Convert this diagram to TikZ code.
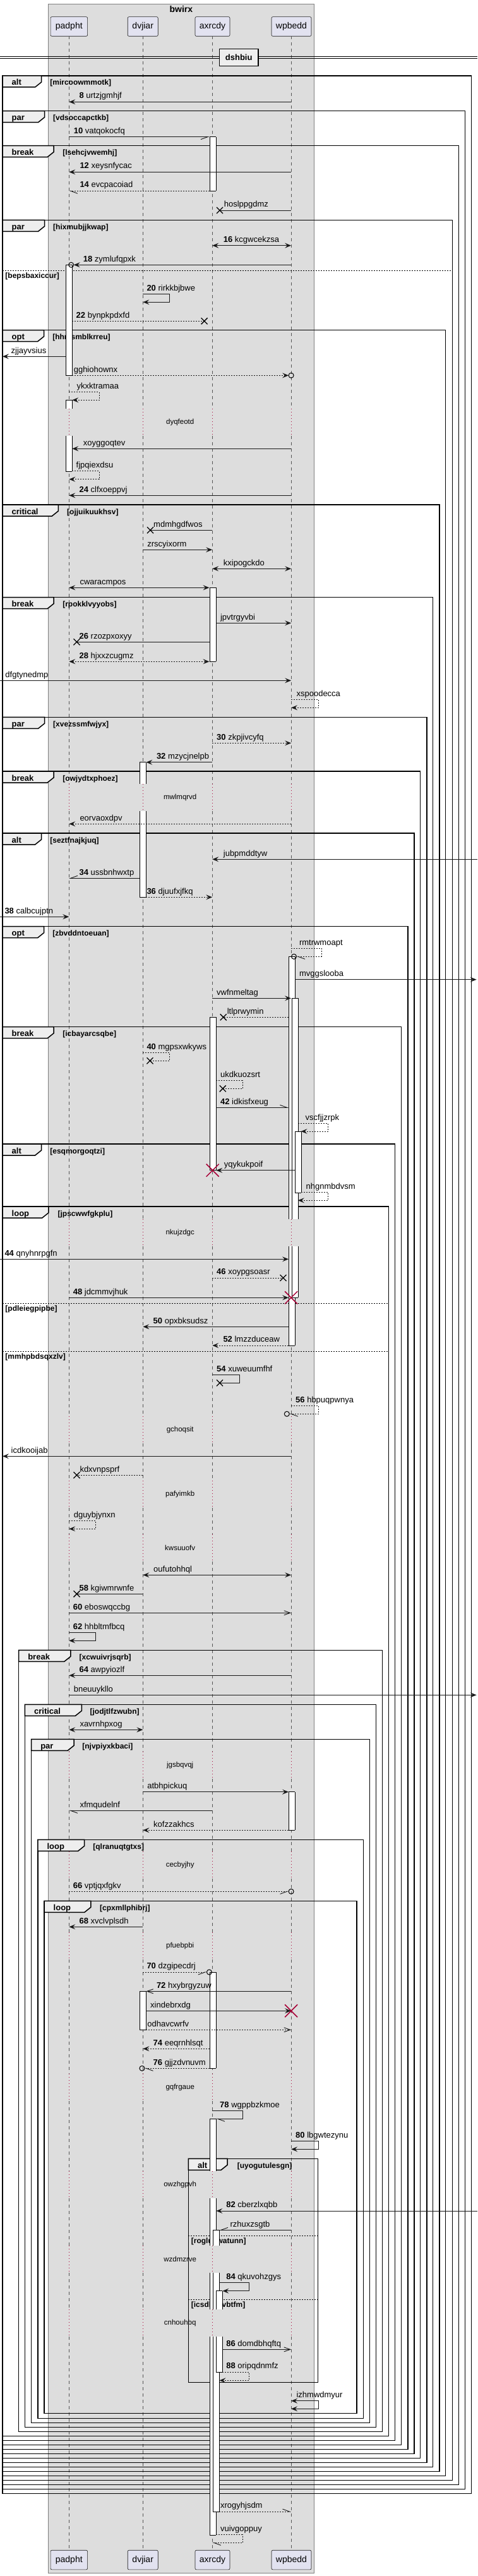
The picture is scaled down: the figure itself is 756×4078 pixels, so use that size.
\documentclass[tikz,border=0pt]{standalone}
\usepackage{fontspec}
\setmainfont{Liberation Sans}
\usetikzlibrary{arrows.meta}
\definecolor{boxbg}{HTML}{DDDDDD}
\definecolor{partbg}{HTML}{E2E2F0}
\definecolor{tabbg}{HTML}{EEEEEE}
\definecolor{crim}{HTML}{A80036}
\definecolor{lifec}{HTML}{555555}
\def\xP{109.3}\def\xD{226.4}\def\xA{336.2}\def\xW{461.1}
\tikzset{
 msgline/.style={line width=0.9pt, draw=black!90},
 fa/.style={-{Stealth[length=10pt,width=8pt,inset=4pt]}},
 ba/.style={{Stealth[length=10pt,width=8pt,inset=4pt]}-{Stealth[length=10pt,width=8pt,inset=4pt]}},
 oa/.style={-{Straight Barb[length=10pt,width=7pt]}},
 hL/.style={-{Straight Barb[harpoon,length=11pt,width=8pt]}},
 hR/.style={-{Straight Barb[harpoon,swap,length=11pt,width=8pt]}},
 dt/.style={dash pattern=on 2pt off 2pt},
 lbl/.style={anchor=base west, inner sep=0pt, font=\fontsize{13}{15}\selectfont},
 kw/.style={anchor=base west, inner sep=0pt, font=\fontsize{13}{15}\selectfont\bfseries},
 cnd/.style={anchor=base west, inner sep=0pt, font=\fontsize{12}{14}\selectfont\bfseries},
 dly/.style={inner sep=0pt, font=\fontsize{11.5}{13}\selectfont},
 part/.style={draw=black!90, line width=0.6pt, fill=partbg, rounded corners=2pt, minimum height=30.6pt, inner sep=0pt, font=\fontsize{14}{16}\selectfont},
 life/.style={draw=lifec, line width=0.5pt, dash pattern=on 5pt off 5pt},
 delayl/.style={draw=crim, line width=0.8pt, dash pattern=on 1pt off 4pt},
 frameline/.style={line width=1.5pt, draw=black},
}
\newcommand\nbr[1]{\textbf{#1}}
\newcommand\smsg[6]{% y, x1, x2, style, labelx, label
  \coordinate (ms) at (#2,#1); \coordinate (me) at (#3,#1);
  \draw[msgline,#4] (ms) -- (me);
  \node[lbl] at (#5,#1-5.3) {#6};}
\newcommand\sself[8]{% y1,y2,xs,xr,xe,style,labelx,label
  \coordinate (ss) at (#3,#1); \coordinate (sa) at (#4,#1);
  \coordinate (sb) at (#4,#2); \coordinate (se) at (#5,#2);
  \draw[msgline,#6] (ss) -- (sa) -- (sb) -- (se);
  \node[lbl] at (#7,#1-5.3) {#8};}
\newcommand\xmk[2]{\draw[line width=1.3pt] (#1-5,#2-5) -- (#1+5,#2+5) (#1-5,#2+5) -- (#1+5,#2-5);}
\newcommand\rxmk[2]{\draw[crim,line width=1.5pt] (#1-10,#2-10) -- (#1+10,#2+10) (#1-10,#2+10) -- (#1+10,#2-10);}
\newcommand\cmk[2]{\draw[line width=1pt] (#1,#2) circle[radius=4pt];}
\newcommand\frm[8]{% L,R,T,B,tabw,keyword,condx,cond
  \draw[frameline] (#1,#3) rectangle (#2,#4);
  \draw[frameline, fill=tabbg] (#1,#3) -- (#1+#5,#3) -- (#1+#5,#3+10) -- (#1+#5-10,#3+18) -- (#1,#3+18) -- cycle;
  \node[kw] at (#1+14.5,#3+15) {#6};
  \node[cnd] at (#7,#3+15) {[#8]};}
\newcommand\els[4]{%
  \draw[line width=1pt, dt] (#1,#3) -- (#2,#3);
  \node[cnd] at (#1+4.3,#3+12.5) {[#4]};}
\newcommand\actv[5]{% xl,y1,y2,top,bottom
  \fill[white] (#1,#2) rectangle (#1+10,#3);
  \draw[line width=0.8pt] (#1,#2) -- (#1,#3) (#1+10,#2) -- (#1+10,#3);
  \ifnum#4=1 \draw[line width=0.8pt] (#1,#2) -- (#1+10,#2);\fi
  \ifnum#5=1 \draw[line width=0.8pt] (#1,#3) -- (#1+10,#3);\fi}
\begin{document}
\begin{tikzpicture}[x=1pt,y=-1pt]
\useasboundingbox (0,0) rectangle (756,4078);
\fill[white] (0,0) rectangle (756,4078);
% box
\draw[fill=boxbg, draw=black!50, line width=0.6pt] (76.3,6) rectangle (497.6,4073.3);
\node[font=\fontsize{14}{16}\selectfont\bfseries, inner sep=0pt] (boxtitle) at (286.9,15) {bwirx};
% participants
\node[part, minimum width=58.5pt] (pT) at (109.3,42) {padpht};
\node[part, minimum width=48pt] (dT) at (226.2,42) {dvjiar};
\node[part, minimum width=55pt] (aT) at (336.5,42) {axrcdy};
\node[part, minimum width=63pt] (wT) at (461.5,42) {wpbedd};
\node[part, minimum width=58.5pt] (pB) at (109.3,4052.5) {padpht};
\node[part, minimum width=48pt] (dB) at (226.2,4052.5) {dvjiar};
\node[part, minimum width=55pt] (aB) at (336.5,4052.5) {axrcdy};
\node[part, minimum width=63pt] (wB) at (461.5,4052.5) {wpbedd};
% lifelines
\foreach \x in {\xP,\xD,\xA,\xW}{
  \foreach \a/\b in {57.3/646.8, 689.8/1240.8, 1283.8/1929.8, 1972.8/2241.8, 2284.8/2343.8, 2386.8/2428.5, 2471.5/2773.2, 2816.2/2930.8, 2973.8/3059.2, 3102.2/3282.8, 3325.8/3437.2, 3480.2/3554.5, 3597.5/3655.8, 3698.8/4037}{
    \draw[life] (\x,\a) -- (\x,\b);}
  \foreach \a/\b in {646.8/689.8, 1240.8/1283.8, 1929.8/1972.8, 2241.8/2284.8, 2343.8/2386.8, 2428.5/2471.5, 2773.2/2816.2, 2930.8/2973.8, 3059.2/3102.2, 3282.8/3325.8, 3437.2/3480.2, 3554.5/3597.5, 3655.8/3698.8}{
    \draw[delayl] (\x,\a) -- (\x,\b);}
}
% divider
\draw[line width=1pt] (0,89.3) -- (756,89.3) (0,92.7) -- (756,92.7);
\node[draw, line width=1.5pt, fill=tabbg, minimum width=61.7pt, minimum height=26.6pt, inner sep=0pt, font=\fontsize{13}{15}\selectfont\bfseries] (div) at (378.2,91) {dshbiu};
% frames
\frm{4}{746.4}{120}{3947.3}{61.6}{alt}{79.2}{mircoowmmotk}
\frm{4}{736.6}{175.7}{3940.3}{66.5}{par}{84}{vdsoccapctkb}
\frm{4}{726.4}{230.7}{3933.3}{81}{break}{99.1}{lsehcjvwemhj}
\frm{4}{716.7}{348.3}{3926.3}{66.5}{par}{84}{hixmubjjkwap}
\els{4}{716.7}{428.3}{bepsbaxiccur}
\frm{4}{705.5}{522.7}{3919.3}{65.5}{opt}{83.1}{hhmsmblkrreu}
\frm{4}{695.8}{799}{3912.3}{88.3}{critical}{106}{ojjuikuukhsv}
\frm{4}{685.6}{945.7}{3905.3}{81}{break}{99.1}{rpokklvyyobs}
\frm{4}{675.9}{1135.3}{3898.3}{66.5}{par}{84}{xvezssmfwjyx}
\frm{4}{665.7}{1221}{3891.3}{81}{break}{99.1}{owjydtxphoez}
\frm{4}{656}{1319}{3884.3}{61.6}{alt}{79.2}{seztfnajkjuq}
\frm{4}{645.8}{1466.7}{3877.3}{65.5}{opt}{83.1}{zbvddntoeuan}
\frm{4}{635.6}{1625.7}{3870.3}{81}{break}{99.1}{icbayarcsqbe}
\frm{4}{625.4}{1811}{3863.3}{61.6}{alt}{79.2}{esqmorgoqtzi}
\frm{4}{615.6}{1910}{3856.3}{72.8}{loop}{91.4}{jpscwwfgkplu}
\els{4}{615.6}{2063.3}{pdleiegpipbe}
\els{4}{615.6}{2139.3}{mmhpbdsqxzlv}
\frm{29.6}{605.4}{2612.3}{3849.3}{82.2}{break}{125.4}{xcwuivrjsqrb}
\frm{39.4}{595.7}{2698.3}{3842.3}{89.9}{critical}{142.4}{jodjtlfzwubn}
\frm{49.6}{585.5}{2753.3}{3835.3}{67.5}{par}{130.2}{njvpiyxkbaci}
\frm{59.8}{575.3}{2912.3}{3828.3}{73.8}{loop}{147.2}{qlranuqtgtxs}
\frm{70}{565.1}{3009.3}{3820.7}{73.8}{loop}{158}{cpxmllphibrj}
\frm{298.4}{503.4}{3417.3}{3771.7}{61.6}{alt}{375.6}{uyogutulesgn}
\els{298.4}{503.4}{3539.3}{rogluywatunn}
\els{298.4}{503.4}{3640.3}{icsdhaevbtfm}
% activations
\actv{332.4}{216.7}{302.3}{1}{1}
\actv{104.3}{419.3}{594.3}{1}{1}
\actv{104.3}{633.3}{646.8}{1}{0}
\actv{104.3}{689.8}{746}{0}{1}
\actv{332.4}{930.3}{1047.3}{1}{1}
\actv{221.4}{1206.7}{1240.8}{1}{0}
\actv{221.4}{1283.8}{1420.3}{0}{1}
\actv{457}{1514.3}{1929.8}{1}{0}
\actv{457}{1972.8}{2130}{0}{1}
\actv{462}{1580.3}{1929.8}{1}{0}
\actv{462}{1972.8}{2054.3}{0}{1}
\actv{332.4}{1610.3}{1852.7}{1}{1}
\actv{467}{1791}{1888.3}{1}{1}
\actv{457}{2836.7}{2897.3}{1}{1}
\actv{332.4}{3122}{3274.3}{1}{1}
\actv{221.4}{3152.3}{3213.3}{1}{1}
\actv{332.4}{3354.3}{3437.2}{1}{0}
\actv{332.4}{3480.2}{3554.5}{0}{0}
\actv{332.4}{3597.5}{3655.8}{0}{0}
\actv{332.4}{3698.8}{4013.3}{0}{1}
\actv{337.4}{3530.3}{3554.5}{1}{0}
\actv{337.4}{3597.5}{3655.8}{0}{0}
\actv{337.4}{3698.8}{3976}{0}{1}
\actv{342.4}{3626.7}{3655.8}{1}{0}
\actv{342.4}{3698.8}{3755}{0}{1}
% messages
\smsg{161.3}{\xW}{\xP}{fa}{125.4}{\nbr{8} urtzjgmhjf}
\smsg{216.7}{\xP}{331.5}{hR}{116.6}{\nbr{10} vatqokocfq}
\smsg{272.3}{\xW}{\xP}{fa}{126.3}{\nbr{12} xeysnfycac}
\smsg{302.3}{332.4}{\xP}{dt,hL}{126.3}{\nbr{14} evcpacoiad}
\smsg{333}{\xW}{348}{}{354.7}{hoslppgdmz}\xmk{348}{333}
\smsg{388.7}{\xA}{\xW}{ba}{353.7}{\nbr{16} kcgwcekzsa}
\smsg{419.3}{\xW}{116.7}{fa}{131.7}{\nbr{18} zymlufqpxk}\cmk{112.7}{419.3}
\sself{465.3}{478.3}{\xD}{268.7}{\xD}{fa}{232.3}{\nbr{20} rirkkbjbwe}
\smsg{508.3}{114.3}{323.6}{dt}{120.5}{\nbr{22} bynpkpdxfd}\xmk{323.6}{508.3}
\smsg{564.3}{104.3}{4}{fa}{17.5}{zjjayvsius}
\smsg{594.3}{114.3}{457.1}{dt,fa}{116.6}{gghiohownx}\cmk{\xW}{594.3}
\sself{620.3}{633.3}{\xP}{157}{114.3}{dt,fa}{121.5}{ykxktramaa}
\smsg{710.3}{\xW}{114.3}{fa}{131.7}{xoyggoqtev}
\sself{745.3}{758.7}{114.3}{157}{\xP}{dt,fa}{120.5}{fjpqiexdsu}
\smsg{784.3}{\xW}{\xP}{fa}{125.4}{\nbr{24} clfxoeppvj}
\smsg{839.3}{\xA}{238}{}{243}{mdmhgdfwos}\xmk{238}{839.3}
\smsg{870.3}{\xD}{\xA}{fa}{233.2}{zrscyixorm}
\smsg{900.3}{\xA}{\xW}{ba}{353.7}{kxipogckdo}
\smsg{930.3}{\xP}{331.5}{ba}{126.3}{cwaracmpos}
\smsg{986.3}{342.4}{\xW}{fa}{348.9}{jpvtrgyvbi}
\smsg{1016.3}{332.4}{121.5}{}{125.4}{\nbr{26} rzozpxoxyy}\xmk{121.5}{1016.3}
\smsg{1047.3}{\xP}{331.5}{dt,ba}{125.4}{\nbr{28} hjxxzcugmz}
\smsg{1077.3}{0}{\xW}{fa}{8.3}{dfgtynedmp}
\sself{1107.3}{1120.3}{\xW}{504.4}{\xW}{dt,fa}{469.4}{xspoodecca}
\smsg{1176.3}{\xA}{\xW}{dt,fa}{343}{\nbr{30} zkpjivcyfq}
\smsg{1206.7}{\xA}{231.4}{fa}{247.8}{\nbr{32} mzycjnelpb}
\smsg{1304.3}{\xW}{\xP}{dt,fa}{126.3}{eorvaoxdpv}
\smsg{1360.3}{756}{\xA}{fa}{353.7}{jubpmddtyw}
\smsg{1390.3}{221.4}{\xP}{hR}{125.4}{\nbr{34} ussbnhwxtp}
\smsg{1420.3}{231.4}{\xA}{dt,fa}{232.3}{\nbr{36} djuufxjfkq}
\smsg{1451.3}{0}{\xP}{fa}{7.3}{\nbr{38} calbcujptn}
\sself{1501.3}{1514.3}{\xW}{509}{469.5}{dt,hL}{473.8}{rmtrwmoapt}\cmk{465.5}{1514.3}
\smsg{1550.7}{467}{754.6}{fa}{473.8}{mvggslooba}
\smsg{1580.3}{\xA}{461}{fa}{343}{vwfnmeltag}
\smsg{1610.3}{457}{353.7}{dt}{359.6}{ltlprwymin}\xmk{353.7}{1610.3}
\sself{1666.3}{1679.3}{\xD}{268.7}{237.5}{dt}{232.3}{\nbr{40} mgpsxwkyws}\xmk{237.5}{1679.3}
\sself{1710.3}{1723.3}{342.4}{384}{352.8}{dt}{348.9}{ukdkuozsrt}\xmk{352.8}{1723.3}
\smsg{1753.3}{342.4}{457}{hL}{348.9}{\nbr{42} idkisfxeug}
\sself{1778.3}{1791}{471.8}{519.4}{476.7}{dt,fa}{483.5}{vscfjjzrpk}
\smsg{1852.7}{467}{342.4}{fa}{354.7}{yqykukpoif}\rxmk{336.7}{1852.7}
\sself{1887.7}{1900.3}{476.7}{519.4}{471.8}{dt,fa}{484.5}{nhgnmbdvsm}
\smsg{1993.3}{0}{457}{fa}{7.3}{\nbr{44} qnyhnrpgfn}
\smsg{2023}{\xA}{448.5}{dt}{343}{\nbr{46} xoypgsoasr}\xmk{448.5}{2023}
\smsg{2054.3}{\xP}{457}{fa}{115.6}{\nbr{48} jdcmmvjhuk}\rxmk{\xW}{2054.3}
\smsg{2100.3}{457}{\xD}{fa}{242.5}{\nbr{50} opxbksudsz}
\smsg{2130}{457}{\xA}{dt,fa}{353.3}{\nbr{52} lmzzduceaw}
\sself{2176.3}{2189.3}{\xA}{379.5}{348}{}{343}{\nbr{54} xuweuumfhf}\xmk{348}{2189.3}
\sself{2225.3}{2238.3}{\xW}{504.4}{458.3}{dt,hL}{468}{\nbr{56} hbpuqpwnya}\cmk{454.3}{2238.3}
\smsg{2305.3}{\xW}{4}{fa}{17.5}{icdkooijab}
\smsg{2335.3}{\xD}{121.5}{dt}{126.3}{kdxvnpsprf}\xmk{121.5}{2335.3}
\sself{2407.3}{2420.3}{\xP}{151.6}{\xP}{dt,fa}{116.6}{dguybjynxn}
\smsg{2493.3}{\xD}{\xW}{ba}{243}{oufutohhql}
\smsg{2523.3}{\xD}{121.5}{}{125.4}{\nbr{58} kgiwmrwnfe}\xmk{121.5}{2523.3}
\smsg{2553.3}{\xP}{\xW}{oa}{115.6}{\nbr{60} eboswqccbg}
\sself{2584.3}{2597.3}{\xP}{151.6}{\xP}{fa}{115.6}{\nbr{62} hhbltmfbcq}
\smsg{2652.3}{\xW}{\xP}{fa}{125.4}{\nbr{64} awpyiozlf}
\smsg{2683.3}{\xP}{754.6}{fa}{116.6}{bneuuykllo}
\smsg{2738.3}{\xP}{\xD}{ba}{126.3}{xavrnhpxog}
\smsg{2836.7}{\xD}{457}{fa}{233.2}{atbhpickuq}
\smsg{2866.3}{\xA}{\xP}{hL}{126.3}{xfmqudelnf}
\smsg{2897.3}{457}{\xD}{dt,fa}{243}{kofzzakhcs}
\smsg{2994.3}{\xP}{457.1}{dt,hR}{115.6}{\nbr{66} vptjqxfgkv}\cmk{\xW}{2994.3}
\smsg{3050.3}{\xD}{\xP}{fa}{125.4}{\nbr{68} xvclvplsdh}
\smsg{3122}{\xD}{327.4}{dt,hR}{232.3}{\nbr{70} dzgipecdrj}\cmk{331.4}{3122}
\smsg{3152.3}{\xW}{231.4}{oa}{247.8}{\nbr{72} hxybrgyzuw}
\smsg{3183.3}{231.4}{\xW}{fa}{238}{xindebrxdg}\rxmk{\xW}{3183.3}
\smsg{3213.3}{231.4}{\xW}{dt,oa}{233.2}{odhavcwrfv}
\smsg{3243.3}{332.4}{\xD}{dt,fa}{242.5}{\nbr{74} eeqrnhlsqt}
\smsg{3274.3}{332.4}{229}{dt,hL}{242.5}{\nbr{76} gjjzdvnuvm}\cmk{225}{3274.3}
\sself{3341.3}{3354.3}{\xA}{384}{342.4}{hL}{348}{\nbr{78} wgppbzkmoe}
\sself{3389.7}{3402.3}{\xW}{504.4}{\xW}{fa}{468}{\nbr{80} lbgwtezynu}
\smsg{3500}{756}{342.4}{fa}{358.1}{\nbr{82} cberzlxqbb}
\smsg{3530.3}{\xW}{347.4}{hR}{364.4}{rzhuxzsgtb}
\sself{3613.7}{3626.7}{347.4}{394.6}{352.4}{fa}{358.1}{\nbr{84} qkuvohzgys}
\smsg{3719.3}{352.4}{\xW}{oa}{358.1}{\nbr{86} domdbhqftq}
\sself{3755}{3768.3}{352.4}{394.6}{347.4}{dt,fa}{358.1}{\nbr{88} oripqdnmfz}
\sself{3800.7}{3813.3}{\xW}{504.4}{\xW}{ba}{469.4}{izhmwdmyur}
\smsg{3976}{347.4}{\xW}{dt,hL}{348.9}{xrogyhjsdm}
\sself{4012.3}{4025.3}{342.4}{384}{\xA}{dt,hL}{348.9}{vuivgoppuy}
% delay texts
\node[dly] (d1) at (285.2,668.3) {dyqfeotd};
\node[dly] (d2) at (285.2,1262.3) {mwlmqrvd};
\node[dly] (d3) at (285.2,1951.3) {nkujzdgc};
\node[dly] (d4) at (285.2,2263.3) {gchoqsit};
\node[dly] (d5) at (285.2,2365.3) {pafyimkb};
\node[dly] (d6) at (285.2,2450) {kwsuuofv};
\node[dly] (d7) at (285.2,2794.7) {jgsbqvqj};
\node[dly] (d8) at (285.2,2952.3) {cecbyjhy};
\node[dly] (d9) at (285.2,3080.7) {pfuebpbi};
\node[dly] (d10) at (285.2,3304.3) {gqfrgaue};
\node[dly] (d11) at (285.2,3458.7) {owzhgpvh};
\node[dly] (d12) at (285.2,3576) {wzdmzrve};
\node[dly] (d13) at (285.2,3677.3) {cnhouhbq};
\end{tikzpicture}
\end{document}
